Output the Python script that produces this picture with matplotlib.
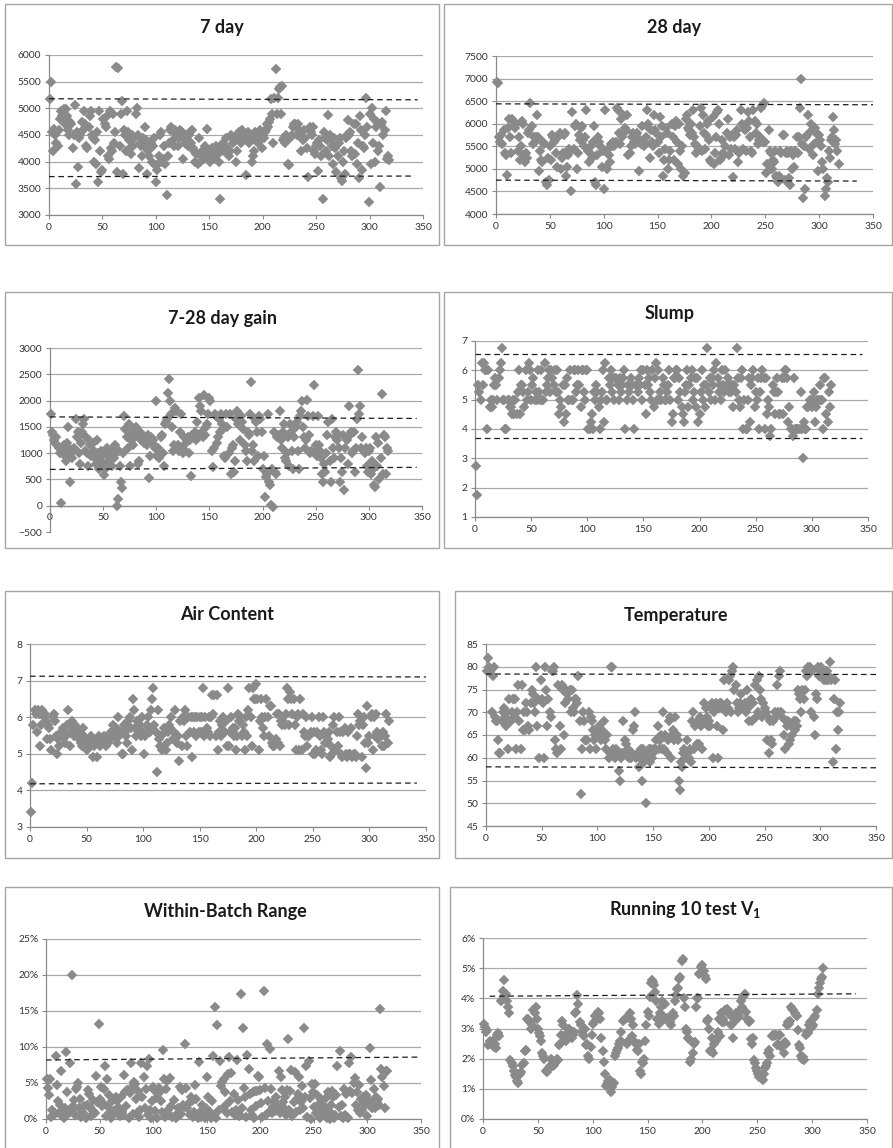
import numpy as np
import matplotlib
matplotlib.use('Agg')
import matplotlib.pyplot as plt
from matplotlib.patches import Rectangle
from matplotlib.ticker import PercentFormatter

# ---------------- DATA ----------------
day7 = [
    5180, 5500, 4550, 4200, 4620, 4500, 4350, 4300, 4600, 4800,
    4950, 4850, 4900, 4980, 4700, 4980, 4850, 4600, 4500, 4750,
    4700, 4250, 4500, 5070, 3580, 4550, 3900, 4450, 4500, 4550,
    4750, 4600, 4950, 4700, 4300, 4250, 4650, 4850, 4950, 4500,
    4450, 4000, 4400, 3950, 4550, 3620, 4950, 4200, 3800, 3850,
    4800, 4700, 4650, 4850, 4100, 4050, 4950, 4250, 4200, 4900,
    4350, 4550, 5780, 3800, 5760, 4300, 4900, 5130, 3760, 4600,
    4500, 4200, 4950, 4550, 4400, 4250, 4150, 4500, 4300, 4450,
    4900, 5010, 4500, 3880, 4350, 4300, 4100, 4450, 4300, 4650,
    4400, 3760, 4200, 4100, 4350, 4000, 4300, 4450, 3930, 3620,
    3850, 3950, 4100, 4500, 4550, 4000, 4050, 4300, 3950, 3370,
    4100, 4350, 4600, 4650, 4600, 4400, 4300, 4600, 4550, 4500,
    4300, 4450, 4600, 4550, 4050, 4450, 4350, 4500, 4400, 4300,
    4500, 4550, 4350, 4600, 4250, 4200, 4000, 4150, 3950, 4450,
    4000, 4100, 4200, 4150, 4050, 4300, 4100, 4620, 4050, 4200,
    4000, 4100, 4250, 4150, 4050, 4300, 4250, 4150, 4000, 3300,
    4200, 4250, 4350, 4200, 4300, 4450, 4250, 4100, 4200, 4500,
    4450, 4350, 4450, 4400, 4000, 4200, 4500, 4550, 4400, 4350,
    4600, 4450, 4500, 3750, 4400, 4550, 4350, 4450, 4500, 4000,
    4100, 4200, 4550, 4400, 4500, 4350, 4600, 4450, 4250, 4500,
    4450, 4550, 4600, 4700, 4650, 4750, 4800, 5170, 4900, 4350,
    5200, 5740, 4900, 5200, 5370, 5400, 4900, 5420, 4400, 4450,
    4350, 4500, 4450, 3950, 3930, 4450, 4500, 4650, 4700, 4700,
    4650, 4500, 4700, 4600, 4550, 4200, 4450, 4400, 4600, 4450,
    4250, 3720, 4600, 4650, 4550, 4500, 4650, 4200, 4150, 4300,
    4350, 3830, 4400, 4300, 4100, 3300, 4550, 4450, 4200, 4400,
    4870, 4100, 4500, 4400, 4300, 3950, 4450, 4250, 3800, 4100,
    4350, 4450, 3700, 3640, 4000, 4200, 3760, 4450, 4500, 4780,
    4500, 4550, 4200, 4100, 4700, 4150, 4700, 3950, 4350, 3700,
    4850, 4600, 3840, 4300, 4250, 4500, 5200, 4650, 3250, 4900,
    3950, 5000, 4350, 4800, 4000, 4650, 4750, 4200, 4300, 3530,
    4700, 4750, 4500, 4600, 4950, 4050, 4100, 4030,
]

day28 = [
    6930, 6900, 5700, 5600, 5750, 5550, 5850, 5350, 5300, 4870,
    5900, 6100, 5700, 5350, 6100, 6050, 5950, 5900, 6000, 5400,
    5700, 5200, 5500, 6050, 6000, 5300, 5150, 5350, 5250, 5800,
    5850, 6450, 5950, 5550, 5700, 5600, 5700, 6200, 5700, 4950,
    5400, 5200, 5150, 5600, 5550, 4700, 4650, 5250, 4750, 5500,
    5200, 5750, 5700, 5600, 5650, 5350, 5050, 5700, 5800, 5000,
    5250, 5350, 5750, 5800, 4850, 5050, 5300, 5450, 5400, 4500,
    6250, 5450, 5950, 6000, 5000, 5350, 5750, 5650, 5900, 5950,
    5650, 5500, 5700, 6300, 5400, 5150, 5350, 5500, 5250, 5600,
    5950, 4700, 4650, 5300, 5700, 5600, 5500, 5050, 5400, 4550,
    6300, 5050, 5000, 5450, 5300, 5150, 5550, 5500, 5600, 5500,
    5600, 6350, 6300, 5800, 5550, 6100, 5700, 6200, 5800, 5900,
    5850, 6200, 5300, 5350, 5500, 5700, 5800, 5600, 5550, 5750,
    5800, 5650, 4950, 5650, 5550, 5950, 5500, 5550, 5700, 6300,
    6000, 5900, 5250, 5850, 5600, 5500, 6200, 5850, 5800, 5600,
    5350, 6150, 5700, 5950, 4850, 5200, 5450, 5900, 5800, 5000,
    5200, 5400, 6000, 5700, 5200, 5950, 6050, 5600, 5100, 6000,
    5400, 5000, 5500, 4850, 4900, 6100, 6200, 5900, 5850, 5750,
    6000, 5800, 6300, 5700, 5550, 5350, 5500, 5450, 5950, 6350,
    5400, 6200, 5800, 5450, 5750, 6000, 6050, 5650, 5200, 5150,
    6150, 5100, 5350, 5700, 6250, 6300, 6000, 5200, 5250, 5650,
    5350, 5300, 5500, 5800, 6100, 5300, 5700, 5450, 5750, 4820,
    5700, 5450, 5750, 5850, 5150, 5350, 6300, 6000, 5450, 5950,
    5850, 5400, 5900, 6250, 6050, 5700, 5400, 5350, 6300, 6050,
    5800, 6000, 5550, 5650, 5700, 6350, 6400, 5600, 6450, 5600,
    4900, 5100, 5850, 5400, 5350, 5000, 5200, 5150, 5400, 4850,
    4800, 4700, 4850, 5400, 5350, 5750, 5750, 4750, 5350, 5400,
    5350, 4800, 4650, 5400, 5000, 5300, 5050, 5400, 5700, 5350,
    5700, 6350, 7000, 5550, 4350, 5500, 4550, 5700, 5750, 6200,
    5450, 6000, 5850, 5300, 5550, 5900, 5800, 5600, 4950, 5750,
    5650, 5500, 5150, 5000, 4400, 4550, 4800, 4700, 5400, 5250,
    5650, 5700, 6150, 5850, 5550, 5650, 5400, 5100,
]

gain = [
    1750, 1400, 1350, 1250, 1200, 1300, 1150, 1100, 1000, 50,
    1100, 1050, 1150, 950, 850, 1200, 1500, 1100, 450, 1000,
    900, 1050, 1100, 1650, 1300, 1400, 1000, 800, 1200, 1400,
    1550, 1650, 1050, 1300, 1000, 750, 1250, 1150, 950, 1200,
    1050, 900, 800, 1250, 1000, 700, 850, 1050, 950, 800,
    580, 700, 1000, 1100, 850, 950, 1050, 750, 1100, 900,
    1150, 1000, 0, 120, 1050, 750, 450, 330, 1000, 1700,
    1450, 1300, 1100, 1550, 750, 1250, 1400, 1150, 1350, 1300,
    1500, 1450, 800, 850, 1400, 1250, 1350, 1200, 1300, 1250,
    1150, 1350, 530, 950, 1300, 1200, 1250, 1150, 1100, 2000,
    950, 1100, 900, 1300, 1350, 1000, 750, 1550, 1600, 1650,
    2150, 2410, 2000, 1750, 1500, 1050, 1150, 1850, 1800, 1150,
    1050, 1400, 1750, 1100, 1000, 1300, 1050, 1200, 1250, 1300,
    1000, 1250, 560, 1350, 1300, 1400, 1250, 1600, 1350, 2050,
    1900, 1800, 1400, 1300, 2100, 1350, 1500, 1550, 1750, 2050,
    2000, 1050, 730, 1100, 1750, 1700, 1200, 1300, 1650, 1400,
    1750, 1550, 1450, 950, 900, 1750, 1500, 1000, 1750, 600,
    1100, 1150, 650, 850, 1650, 1800, 1550, 1750, 1250, 1700,
    1600, 1450, 1150, 1050, 850, 1400, 1350, 1750, 2350, 1050,
    1150, 850, 1650, 1600, 1400, 950, 1700, 1650, 1400, 700,
    950, 170, 550, 600, 1750, 450, 400, 20, 700, -30,
    1400, 650, 600, 1300, 1350, 1800, 1250, 1100, 1400, 1550,
    900, 850, 1000, 1300, 750, 1550, 1400, 1050, 700, 1300,
    1500, 1600, 1050, 700, 1700, 1800, 2000, 1500, 1300, 1100,
    1250, 2020, 1700, 1350, 1000, 1050, 1700, 2300, 1050, 1150,
    950, 1700, 1150, 1050, 900, 600, 450, 800, 650, 1000,
    1350, 1600, 850, 450, 1650, 1100, 900, 1300, 1400, 1250,
    1350, 1100, 450, 900, 650, 1350, 300, 1100, 1250, 800,
    1900, 1350, 1400, 1000, 1050, 1400, 650, 1100, 1650, 2580,
    1750, 1900, 1100, 1300, 1050, 1000, 1100, 750, 650, 1050,
    1100, 600, 850, 700, 400, 350, 1300, 750, 1200, 500,
    900, 2130, 600, 1350, 1300, 600, 1100, 1050,
]

slump = [
    2.75, 1.75, 5.5, 5.25, 5.0, 6.25, 5.5, 6.25, 6.0, 6.0,
    4.0, 6.0, 4.75, 5.0, 4.75, 5.0, 5.5, 5.75, 5.5, 5.0,
    5.75, 6.0, 6.25, 6.75, 5.0, 5.0, 4.0, 4.0, 5.0, 5.0,
    4.75, 4.75, 4.5, 5.0, 4.5, 5.0, 4.5, 5.25, 6.0, 4.5,
    5.5, 5.5, 5.25, 4.75, 6.0, 5.0, 5.25, 6.25, 6.0, 5.0,
    5.5, 5.75, 5.0, 5.25, 5.0, 6.0, 5.25, 5.0, 6.0, 5.0,
    5.0, 6.25, 5.25, 5.5, 5.75, 6.0, 5.25, 6.0, 5.75, 5.5,
    6.0, 5.25, 6.0, 5.25, 4.5, 5.0, 4.75, 5.5, 4.25, 5.5,
    4.5, 5.75, 5.0, 5.0, 6.0, 5.0, 5.0, 6.0, 6.0, 5.25,
    5.5, 6.0, 5.5, 4.75, 6.0, 6.0, 5.25, 5.0, 6.0, 6.0,
    4.0, 4.0, 4.25, 4.5, 4.0, 5.25, 5.0, 5.5, 5.25, 4.75,
    4.0, 5.0, 5.25, 6.0, 4.25, 6.25, 5.0, 5.0, 5.75, 5.5,
    6.0, 5.25, 5.75, 5.0, 5.75, 5.75, 5.5, 5.0, 5.75, 5.25,
    5.5, 5.75, 6.0, 4.0, 5.0, 5.5, 5.25, 5.5, 5.75, 5.5,
    5.0, 4.0, 5.5, 5.5, 5.25, 5.75, 5.5, 6.0, 5.0, 6.0,
    5.5, 4.5, 6.0, 5.5, 5.75, 5.25, 5.0, 6.0, 4.75, 5.75,
    6.25, 5.0, 6.0, 5.0, 5.25, 5.0, 5.75, 5.5, 5.0, 5.0,
    5.25, 5.5, 6.0, 5.0, 4.25, 4.5, 5.75, 5.75, 6.0, 6.0,
    5.0, 5.75, 5.25, 4.75, 4.5, 4.25, 5.25, 5.5, 6.0, 4.75,
    5.5, 5.75, 6.0, 5.0, 5.25, 5.75, 4.75, 5.75, 4.25, 4.5,
    5.25, 6.0, 5.0, 5.5, 4.75, 5.5, 6.75, 5.25, 5.75, 5.0,
    5.75, 5.5, 6.0, 5.0, 6.25, 5.75, 5.25, 5.5, 5.0, 6.0,
    5.5, 5.25, 6.0, 5.5, 5.75, 5.25, 5.5, 5.25, 5.5, 4.75,
    5.5, 5.25, 6.75, 5.75, 5.0, 4.75, 5.75, 6.0, 4.0, 5.0,
    4.0, 4.0, 5.0, 5.75, 4.25, 5.5, 5.75, 6.0, 4.75, 5.25,
    5.0, 5.75, 4.0, 5.25, 5.75, 6.0, 5.75, 4.0, 5.75, 4.5,
    5.0, 4.75, 3.75, 4.0, 5.5, 5.25, 4.5, 5.25, 5.75, 5.25,
    4.5, 4.5, 5.75, 4.5, 5.75, 6.0, 6.0, 5.75, 4.25, 4.75,
    4.0, 4.0, 3.75, 5.75, 4.0, 4.0, 4.0, 4.0, 4.0, 5.25,
    4.0, 3.0, 4.25, 4.0, 4.0, 4.75, 4.75, 5.0, 5.0, 4.75,
    5.0, 5.25, 4.25, 4.75, 5.0, 5.0, 5.5, 5.0, 5.0, 4.0,
    5.75, 5.75, 4.5, 4.25, 5.25, 4.75, 5.5,
]

air = [
    3.4, 4.2, 5.8, 6.2, 6.1, 5.6, 6.2, 6.1, 5.2, 5.8,
    6.2, 6.0, 6.1, 5.9, 5.4, 5.8, 5.7, 5.4, 5.1, 6.0,
    6.1, 5.9, 5.5, 5.0, 5.4, 5.2, 5.6, 5.5, 5.7, 5.6,
    5.3, 5.5, 5.8, 6.2, 5.2, 5.6, 5.9, 5.7, 5.5, 5.8,
    5.7, 5.5, 5.4, 5.6, 5.3, 5.2, 5.7, 5.5, 5.4, 5.1,
    5.3, 5.4, 5.2, 5.5, 5.3, 4.9, 5.2, 5.4, 4.9, 5.3,
    5.5, 5.2, 5.4, 5.3, 5.5, 5.4, 5.2, 5.5, 5.3, 5.5,
    5.4, 5.6, 5.8, 5.5, 5.6, 5.7, 5.3, 6.0, 5.5, 5.6,
    5.0, 5.0, 5.8, 5.6, 5.5, 5.3, 5.9, 6.0, 5.7, 5.1,
    6.5, 6.2, 5.7, 5.5, 5.9, 5.6, 5.8, 5.5, 6.0, 5.6,
    5.0, 5.5, 5.8, 6.0, 5.7, 5.6, 6.2, 6.5, 6.8, 5.8,
    5.6, 4.5, 6.2, 5.4, 5.2, 5.5, 5.1, 5.7, 5.6, 5.1,
    5.3, 5.6, 5.8, 5.7, 6.0, 5.4, 5.6, 6.2, 5.5, 5.3,
    5.5, 4.8, 5.9, 5.2, 6.0, 5.9, 6.2, 5.5, 5.2, 6.0,
    5.6, 6.0, 4.9, 6.0, 5.6, 6.0, 5.5, 6.0, 5.6, 6.0,
    5.6, 6.0, 6.8, 5.5, 6.0, 5.7, 5.6, 6.0, 5.5, 6.0,
    6.6, 6.1, 6.6, 5.5, 6.6, 5.1, 5.6, 5.9, 5.5, 5.8,
    6.0, 5.6, 5.9, 5.2, 6.8, 5.2, 5.6, 6.0, 5.7, 5.5,
    5.7, 5.1, 5.5, 6.1, 5.9, 6.0, 5.5, 5.8, 5.6, 5.1,
    6.0, 5.5, 6.2, 6.8, 6.0, 5.2, 6.8, 6.5, 6.5, 6.9,
    6.5, 5.1, 5.9, 6.5, 6.0, 5.7, 5.5, 6.0, 6.5, 6.0,
    5.5, 6.3, 6.3, 5.3, 5.2, 5.2, 5.4, 6.1, 5.3, 6.1,
    5.2, 5.9, 5.8, 5.9, 5.8, 6.1, 6.8, 6.5, 5.8, 6.7,
    6.5, 6.1, 6.5, 5.8, 5.1, 6.0, 6.1, 5.1, 6.5, 5.1,
    6.1, 5.6, 5.5, 6.0, 5.2, 5.5, 5.5, 5.6, 6.0, 5.0,
    5.6, 5.0, 5.1, 5.6, 6.0, 5.5, 5.1, 5.0, 6.0, 5.6,
    5.3, 5.5, 5.4, 5.6, 4.9, 5.2, 5.0, 5.8, 6.0, 5.1,
    5.6, 5.2, 6.0, 5.6, 5.0, 4.9, 5.6, 5.7, 5.0, 4.9,
    5.6, 5.0, 5.0, 5.7, 4.9, 5.0, 5.0, 4.9, 5.5, 6.1,
    5.8, 5.9, 4.9, 5.8, 6.0, 5.3, 4.6, 6.3, 5.3, 5.5,
    6.0, 6.1, 5.1, 6.0, 5.5, 6.1, 5.6, 5.4, 5.5, 5.5,
    5.2, 5.6, 5.2, 5.5, 6.1, 5.3, 5.9,
]

temperature = [
    79, 82, 80, 79, 70, 78, 80, 69, 68, 68,
    64, 61, 61, 68, 70, 71, 69, 67, 70, 62,
    73, 68, 70, 73, 69, 73, 62, 70, 76, 68,
    62, 76, 66, 70, 66, 72, 70, 67, 66, 72,
    75, 74, 72, 70, 80, 67, 73, 60, 77, 73,
    72, 60, 80, 75, 67, 73, 70, 69, 79, 79,
    80, 64, 62, 61, 76, 67, 62, 76, 75, 65,
    72, 75, 74, 73, 75, 70, 75, 71, 70, 73,
    73, 72, 78, 68, 52, 62, 70, 68, 64, 64,
    64, 70, 62, 69, 68, 66, 64, 65, 62, 66,
    67, 65, 64, 66, 65, 68, 64, 62, 65, 60,
    61, 80, 80, 62, 61, 60, 62, 61, 57, 55,
    60, 61, 68, 61, 64, 63, 62, 60, 61, 60,
    61, 66, 67, 70, 60, 61, 58, 60, 62, 55,
    62, 59, 61, 50, 60, 62, 59, 62, 60, 61,
    62, 62, 64, 67, 62, 64, 65, 62, 70, 62,
    65, 61, 64, 68, 69, 60, 65, 66, 64, 69,
    65, 64, 55, 53, 59, 58, 61, 62, 60, 64,
    61, 60, 62, 59, 68, 70, 62, 67, 63, 68,
    63, 69, 67, 62, 68, 72, 71, 69, 67, 68,
    67, 71, 72, 60, 70, 72, 67, 60, 71, 72,
    72, 71, 66, 77, 70, 72, 71, 77, 78, 70,
    79, 80, 75, 76, 72, 70, 71, 72, 74, 71,
    71, 72, 70, 75, 71, 68, 72, 73, 68, 72,
    76, 69, 77, 70, 78, 75, 73, 69, 72, 71,
    70, 64, 69, 61, 68, 64, 63, 68, 70, 69,
    76, 70, 78, 79, 70, 69, 65, 62, 68, 67,
    68, 63, 64, 67, 65, 68, 66, 68, 67, 75,
    74, 73, 70, 75, 73, 75, 79, 78, 80, 79,
    80, 70, 79, 69, 65, 74, 73, 80, 78, 79,
    80, 79, 77, 78, 77, 79, 77, 78, 81, 77,
    59, 73, 77, 62, 70, 66, 70, 72,
]

# within-batch range, percent
within_batch_pct = [
    5.5, 4.3, 3.3, 5.6, 0.3, 1.2, 0.5, 0.8, 8.8, 4.7,
    2.5, 0.8, 2.0, 6.7, 1.0, 0.5, 0.2, 1.5, 9.3, 3.8,
    0.8, 7.8, 1.3, 20.0, 1.8, 2.7, 0.6, 4.1, 4.5, 5.0,
    1.5, 2.8, 0.3, 1.0, 1.8, 0.5, 0.2, 2.0, 4.0, 3.5,
    1.7, 0.4, 1.2, 2.7, 1.0, 0.9, 6.0, 2.3, 13.2, 2.8,
    4.5, 1.8, 2.2, 4.2, 7.3, 0.4, 5.5, 1.7, 3.4, 0.8,
    0.1, 2.5, 1.0, 1.3, 3.0, 2.5, 0.7, 1.5, 0.4, 3.0,
    1.0, 0.5, 6.1, 3.8, 1.8, 4.0, 0.2, 3.6, 7.8, 4.4,
    0.7, 5.2, 4.8, 2.8, 0.9, 3.9, 0.3, 1.3, 7.8, 3.1,
    5.8, 1.5, 4.2, 7.3, 0.5, 8.3, 1.2, 0.1, 2.5, 4.5,
    4.0, 1.1, 2.9, 0.1, 4.3, 3.8, 2.5, 1.0, 9.6, 5.6,
    0.3, 4.1, 5.3, 1.2, 0.5, 5.7, 1.8, 0.3, 2.6, 0.4,
    0.2, 0.6, 1.5, 0.5, 4.5, 0.7, 4.0, 2.0, 1.6, 10.4,
    4.3, 1.5, 2.2, 0.5, 3.0, 2.5, 0.3, 1.0, 4.7, 2.8,
    0.6, 0.1, 7.9, 1.0, 0.3, 2.0, 0.8, 0.2, 1.5, 5.8,
    3.0, 0.5, 1.0, 0.1, 2.5, 8.8, 0.5, 15.6, 0.2, 13.0,
    1.2, 8.1, 4.6, 5.2, 1.5, 5.5, 3.8, 1.9, 0.8, 6.3,
    8.6, 2.5, 6.4, 1.0, 3.5, 0.6, 1.2, 8.2, 2.6, 0.4,
    0.6, 17.3, 1.5, 12.7, 4.3, 3.1, 0.3, 8.9, 6.9, 3.5,
    1.2, 0.5, 3.8, 0.2, 3.9, 1.8, 3.9, 6.0, 5.8, 4.0,
    2.2, 0.3, 17.8, 4.3, 0.6, 10.4, 2.5, 1.0, 9.7, 4.1,
    0.8, 1.6, 2.5, 1.1, 3.0, 1.8, 6.6, 0.8, 5.8, 4.0,
    2.3, 1.5, 3.0, 0.5, 4.0, 11.1, 1.3, 3.9, 6.8, 0.4,
    2.3, 6.5, 1.0, 2.8, 3.5, 5.8, 1.3, 2.4, 4.6, 1.5,
    12.7, 3.1, 7.3, 0.3, 8.0, 2.9, 0.0, 4.8, 3.8, 1.6,
    4.9, 0.9, 3.3, 2.0, 1.0, 0.1, 2.8, 1.3, 1.8, 0.4,
    2.9, 0.2, 3.8, 1.1, 0.0, 2.0, 3.9, 3.0, 0.2, 0.6,
    3.3, 7.4, 1.7, 9.4, 0.4, 2.0, 0.1, 4.1, 0.6, 3.5,
    0.3, 0.1, 7.8, 3.9, 8.6, 3.6, 5.0, 5.7, 2.0, 3.8,
    1.2, 4.7, 0.8, 2.8, 1.3, 3.0, 2.2, 2.0, 3.3, 0.4,
    2.6, 9.8, 5.4, 1.5, 2.2, 4.2, 1.5, 3.0, 2.3, 2.8,
    2.0, 15.3, 7.0, 5.9, 4.6, 1.5, 6.6, 6.7,
]

# running 10-test coefficient of variation, percent
running_v1_pct = [
    3.15, 3.05, 2.9, 2.95, 2.45, 2.6, 2.5, 2.55, 2.6, 2.4,
    2.5, 2.35, 2.8, 2.85, 2.75, 3.9, 3.95, 4.25, 4.6, 4.1,
    4.15, 3.9, 3.7, 3.5, 1.95, 1.85, 1.75, 1.6, 1.45, 1.4,
    1.25, 1.2, 1.45, 1.5, 1.55, 1.8, 1.85, 2.25, 2.3, 3.3,
    3.3, 3.25, 3.2, 3.0, 3.1, 3.6, 3.5, 3.7, 3.3, 3.0,
    2.85, 2.75, 2.6, 2.2, 2.1, 2.0, 1.6, 1.55, 1.65, 1.7,
    1.75, 2.0, 1.95, 1.75, 1.8, 1.85, 2.0, 1.95, 2.45, 2.5,
    2.8, 3.25, 3.1, 2.75, 2.65, 2.6, 2.85, 3.0, 2.95, 2.85,
    2.7, 2.8, 2.9, 3.5, 3.55, 4.1, 3.8, 3.2, 3.1, 2.9,
    2.8, 2.75, 3.0, 2.45, 2.5, 2.1, 2.0, 2.4, 2.8, 3.15,
    3.2, 3.4, 3.45, 3.35, 3.55, 3.5, 3.3, 2.7, 2.25, 1.9,
    1.5, 1.1, 1.15, 1.25, 1.2, 1.3, 0.9, 1.05, 1.2, 2.1,
    2.2, 2.3, 2.35, 2.5, 2.6, 2.9, 2.55, 3.25, 3.3, 3.35,
    2.5, 2.6, 3.35, 3.5, 3.3, 2.75, 3.1, 2.6, 2.5, 2.3,
    2.25, 2.5, 1.6, 1.5, 1.9, 1.85, 2.0, 2.6, 3.1, 3.55,
    3.4, 4.05, 4.5, 4.6, 4.55, 4.45, 4.2, 3.9, 3.3, 3.15,
    3.5, 3.7, 3.9, 3.4, 3.3, 3.8, 3.3, 3.35, 3.25, 3.2,
    3.1, 3.4, 3.5, 3.4, 3.9, 4.1, 4.3, 4.35, 4.65, 4.7,
    5.25, 5.3, 4.0, 3.7, 3.0, 2.9, 2.7, 2.65, 1.9, 2.0,
    2.2, 2.5, 2.55, 3.7, 4.0, 4.0, 4.8, 4.85, 5.05, 5.1,
    4.9, 4.75, 4.65, 3.25, 3.3, 3.0, 2.25, 2.3, 2.7, 2.2,
    2.5, 2.6, 2.7, 2.9, 3.3, 2.75, 3.5, 3.2, 3.3, 3.2,
    3.6, 3.65, 3.6, 3.5, 3.45, 3.1, 3.15, 2.7, 3.2, 3.3,
    3.5, 3.35, 3.4, 3.6, 3.9, 3.7, 4.05, 4.1, 4.15, 3.55,
    3.3, 3.2, 3.25, 2.65, 2.5, 2.7, 1.95, 1.85, 1.7, 1.6,
    1.5, 1.4, 1.35, 1.45, 1.3, 1.5, 1.7, 1.75, 1.85, 2.2,
    2.3, 2.1, 2.75, 2.8, 2.75, 2.8, 2.8, 2.45, 2.5, 2.8,
    2.8, 2.4, 2.5, 2.2, 2.55, 2.5, 3.1, 3.2, 3.15, 3.25,
    3.7, 3.65, 3.6, 3.5, 3.45, 3.4, 2.95, 2.45, 2.35, 2.1,
    2.0, 2.05, 1.95, 2.8, 2.9, 2.85, 3.1, 3.2, 3.15, 3.05,
    3.1, 3.35, 3.4, 3.6, 4.15, 4.35, 4.5, 4.65, 4.7, 5.0,
]

# control limits (value at start, value at end of line)
ucl_7day, lcl_7day = [5180, 5160], [3720, 3730]
ucl_28day, lcl_28day = [6440, 6420], [4750, 4730]
ucl_gain, lcl_gain = [1690, 1660], [690, 730]
ucl_slump, lcl_slump = [6.55, 6.55], [3.7, 3.7]
ucl_air, lcl_air = [7.12, 7.10], [4.18, 4.20]
ucl_temp, lcl_temp = [78.4, 78.3], [58.0, 57.8]
ucl_wbr = [8.2, 8.6]
ucl_run = [4.07, 4.15]

titles = ["7 day", "28 day", "7-28 day gain", "Slump", "Air Content",
          "Temperature", "Within-Batch Range", "Running 10 test V$_{1}$"]
x_ticks = [0, 50, 100, 150, 200, 250, 300, 350]

# ---------------- STYLE / LAYOUT ----------------
plt.rcParams['font.family'] = ['Lato', 'DejaVu Sans']
plt.rcParams['mathtext.fontset'] = 'custom'
plt.rcParams['mathtext.rm'] = 'Lato:bold'
plt.rcParams['mathtext.it'] = 'Lato:bold'
plt.rcParams['mathtext.bf'] = 'Lato:bold'

W, H = 893, 1148
fig = plt.figure(figsize=(W / 100, H / 100), dpi=100)
fig.patch.set_facecolor('white')

MARK = '#8a8a8a'
GRID = '#a9a9a9'
SPINE = '#8a8a8a'
TXT = '#333333'


def fx(px):
    return px / W


def fy(py):
    return 1 - py / H


boxes = [(5, 4, 439, 245), (444, 4, 892, 245),
         (5, 292, 439, 548), (444, 292, 892, 548),
         (5, 591, 439, 858), (455, 591, 892, 858),
         (5, 887, 439, 1152), (450, 887, 892, 1152)]
for (x0, y0, x1, y1) in boxes:
    fig.patches.append(Rectangle((fx(x0), fy(y1)), fx(x1) - fx(x0), fy(y0) - fy(y1),
                                 transform=fig.transFigure, fill=False,
                                 ec='#a6a6a6', lw=1.0))

axboxes = [(49, 423, 55, 215), (496, 873, 56, 214),
           (50, 422, 348, 532), (475, 868, 341, 517),
           (30, 426, 644, 827), (486, 876, 644, 826),
           (46, 421, 939, 1119), (483, 867, 938, 1119)]
title_pos = [(222, 28), (674, 27), (222, 318), (670, 314),
             (227, 615), (676, 615), (225, 912), (685, 910)]


def make_panel(i, ys, ylim, yticks, limits, pct=False, axis_at=None):
    x0, x1, yt, yb = axboxes[i]
    ax = fig.add_axes([fx(x0), fy(yb), fx(x1) - fx(x0), fy(yt) - fy(yb)])
    xs = np.arange(1, len(ys) + 1)
    ax.set_xlim(0, 350)
    ax.set_ylim(*ylim)
    ax.set_xticks(x_ticks)
    ax.set_yticks(yticks)
    for s in ['top', 'right']:
        ax.spines[s].set_visible(False)
    for s in ['left', 'bottom']:
        ax.spines[s].set_color(SPINE)
        ax.spines[s].set_linewidth(0.9)
    if axis_at is not None:
        ax.spines['bottom'].set_position(('data', axis_at))
    ax.yaxis.grid(True, color=GRID, lw=0.9)
    ax.set_axisbelow(True)
    ax.tick_params(direction='out', length=3, width=0.8, color=SPINE,
                   labelsize=7.4, labelcolor=TXT, pad=2.5)
    if pct:
        ax.yaxis.set_major_formatter(PercentFormatter(xmax=1, decimals=0))
    ax.plot(xs, ys, ls='none', marker='D', ms=5.3, mfc=MARK, mec=MARK,
            mew=0.3, zorder=3, clip_on=False)
    for (xa, xb, vals) in limits:
        ax.plot([xa, xb], vals, ls=(0, (4.5, 3)), color='#1e1e1e', lw=0.9,
                zorder=4)
    if axis_at is not None:
        for gl, t in zip(ax.get_ygridlines(), yticks):
            if t < axis_at:
                gl.set_visible(False)
    cx, cy = title_pos[i]
    fig.text(fx(cx), fy(cy), titles[i], ha='center', va='center',
             fontsize=13, fontweight='bold', color='#1a1a1a')
    return ax


make_panel(0, day7, (3000, 6000), range(3000, 6001, 500),
           [(0, 345, ucl_7day), (0, 340, lcl_7day)])
make_panel(1, day28, (4000, 7500), range(4000, 7501, 500),
           [(0, 350, ucl_28day), (0, 335, lcl_28day)])
make_panel(2, gain, (-500, 3000), range(-500, 3001, 500),
           [(0, 345, ucl_gain), (0, 345, lcl_gain)], axis_at=0)
make_panel(3, slump, (1, 7), range(1, 8),
           [(0, 345, ucl_slump), (0, 345, lcl_slump)])
make_panel(4, air, (3, 8), range(3, 9),
           [(0, 350, ucl_air), (0, 342, lcl_air)])
make_panel(5, temperature, (45, 85), range(45, 86, 5),
           [(0, 350, ucl_temp), (0, 350, lcl_temp)])
make_panel(6, np.array(within_batch_pct) / 100, (0, 0.25),
           np.arange(0, 0.2501, 0.05),
           [(0, 350, np.array(ucl_wbr) / 100)], pct=True)
make_panel(7, np.array(running_v1_pct) / 100, (0, 0.06),
           np.arange(0, 0.0601, 0.01),
           [(6, 340, np.array(ucl_run) / 100)], pct=True)

fig.savefig('out.png', dpi=100, facecolor='white')
